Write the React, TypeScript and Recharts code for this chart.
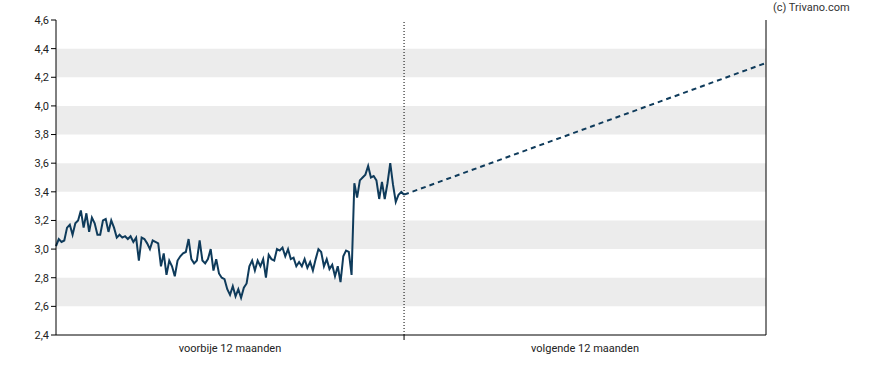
import { ComposedChart, Line, XAxis, YAxis, ReferenceArea, ReferenceLine } from 'recharts'

// koersverloop voorbije 12 maanden (geschat uit de grafiek)
const history = [
  3.02, 3.07, 3.05, 3.06, 3.15, 3.17, 3.10, 3.18, 3.20, 3.27, 3.15, 3.25, 3.12, 3.22,
  3.18, 3.10, 3.10, 3.20, 3.21, 3.12, 3.20, 3.15, 3.08, 3.10, 3.08, 3.09, 3.07, 3.09,
  3.05, 3.08, 2.92, 3.08, 3.07, 3.04, 3.00, 3.06, 3.05, 3.04, 2.88, 2.97, 2.82, 2.92,
  2.88, 2.81, 2.92, 2.95, 2.97, 2.98, 3.07, 2.93, 2.90, 2.92, 3.06, 2.92, 2.90, 2.93,
  3.00, 2.85, 2.93, 2.83, 2.80, 2.79, 2.72, 2.68, 2.74, 2.67, 2.72, 2.66, 2.73, 2.76,
  2.88, 2.92, 2.85, 2.92, 2.88, 2.93, 2.80, 2.96, 2.93, 2.92, 3.00, 2.99, 3.01, 2.95,
  3.00, 2.93, 2.94, 2.88, 2.91, 2.88, 2.93, 2.87, 2.91, 2.85, 2.93, 3.00, 2.98, 2.88,
  2.93, 2.86, 2.89, 2.81, 2.88, 2.77, 2.95, 2.99, 2.98, 2.82, 3.46, 3.36, 3.48, 3.50,
  3.52, 3.58, 3.50, 3.51, 3.48, 3.35, 3.47, 3.35, 3.46, 3.60, 3.45, 3.33, 3.38, 3.40,
  3.38,
]

// verwachting volgende 12 maanden
const forecastStart = 3.38
const forecastTarget = 4.3

const pastDays = 351
const futureDays = 365

const yTicks = [2.4, 2.6, 2.8, 3.0, 3.2, 3.4, 3.6, 3.8, 4.0, 4.2, 4.4, 4.6]
const bands = [
  [2.6, 2.8],
  [3.0, 3.2],
  [3.4, 3.6],
  [3.8, 4.0],
  [4.2, 4.4],
]
const periodLabels = ['voorbije 12 maanden', 'volgende 12 maanden']

const histData = history.map((v, i) => ({
  day: -pastDays + (i * pastDays) / (history.length - 1),
  price: v,
}))
const forecastData = [
  { day: 0, forecast: forecastStart },
  { day: futureDays, forecast: forecastTarget },
]

const fmt = (v: number) => v.toFixed(1).replace('.', ',')

// eslint-disable-next-line @typescript-eslint/no-explicit-any
const PeriodTick = (props: any) => {
  const { x, y, payload } = props
  if (payload.value === 0) {
    return <line x1={x} x2={x} y1={y - 8} y2={y - 3} stroke="#000" />
  }
  const label = payload.value < 0 ? periodLabels[0] : periodLabels[1]
  return (
    <text x={x} y={y + 9} textAnchor="middle" fill="#222" fontSize={11}>
      {label}
    </text>
  )
}

export default function App() {
  return (
    <div style={{ position: 'absolute', left: 0, top: 0, width: 888, height: 370, fontFamily: 'Roboto, sans-serif', background: '#fff' }}>
      <div style={{ position: 'absolute', left: 773, top: 1, fontSize: 11, color: '#333' }}>(c) Trivano.com</div>
      <ComposedChart width={888} height={370} margin={{ top: 20, right: 0, bottom: 0, left: 0 }}>
        {bands.map(([a, b]) => (
          <ReferenceArea key={a} yAxisId="left" xAxisId="bottom" y1={a} y2={b} x1={-pastDays} x2={futureDays} fill="#ececec" fillOpacity={1} stroke="none" />
        ))}
        <XAxis
          xAxisId="bottom"
          dataKey="day"
          type="number"
          domain={[-pastDays, futureDays]}
          ticks={[-pastDays / 2, 0, futureDays / 2]}
          tickLine={false}
          tick={PeriodTick}
          stroke="#000"
          height={35}
          allowDuplicatedCategory={false}
        />
        <XAxis xAxisId="top" orientation="top" type="number" domain={[-pastDays, futureDays]} tick={false} tickLine={false} stroke="#000" height={0} />
        <YAxis
          yAxisId="left"
          type="number"
          domain={[2.4, 4.6]}
          ticks={yTicks}
          tickFormatter={fmt}
          stroke="#000"
          tickSize={5}
          tick={{ fill: '#222', fontSize: 11 }}
          width={56}
          interval={0}
        />
        <YAxis
          yAxisId="right"
          orientation="right"
          type="number"
          domain={[2.4, 4.6]}
          ticks={[forecastTarget]}
          tickFormatter={(v: number) => `Gem.: € ${v.toFixed(2).replace('.', ',')}`}
          tickLine={false}
          tickSize={6}
          stroke="#000"
          tick={{ fill: '#222', fontSize: 11, textAnchor: 'start' }}
          width={122}
        />
        <ReferenceLine yAxisId="left" xAxisId="bottom" x={0} stroke="#000" strokeDasharray="1 2" />
        <Line
          yAxisId="left"
          xAxisId="bottom"
          data={histData}
          dataKey="price"
          type="linear"
          stroke="#0f3b5b"
          strokeWidth={2}
          dot={false}
          isAnimationActive={false}
        />
        <Line
          yAxisId="left"
          xAxisId="bottom"
          data={forecastData}
          dataKey="forecast"
          type="linear"
          stroke="#0f3b5b"
          strokeWidth={2}
          strokeDasharray="5 4"
          dot={false}
          isAnimationActive={false}
        />
      </ComposedChart>
    </div>
  )
}
